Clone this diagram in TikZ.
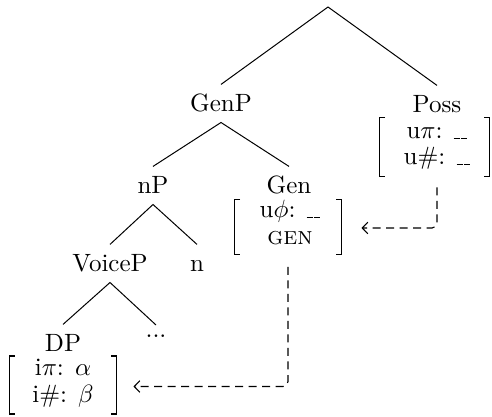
\documentclass[tikz,border=0pt]{standalone}
\usetikzlibrary{arrows.meta}
\newcommand{\blankslot}{\rule[-0.2pt]{2.4pt}{0.45pt}\hspace{0.7pt}\rule[-0.2pt]{2.4pt}{0.45pt}}
\begin{document}
\begin{tikzpicture}[x=0.4pt,y=-0.4pt,
  lbl/.style={inner sep=0pt,text height=6.83pt,text depth=0pt,anchor=base},
  feat/.style={inner sep=0pt,anchor=base},
  bundle/.style={inner sep=0pt,draw=none},
  branch/.style={line width=0.4pt},
  brk/.style={line width=0.5pt},
  agree/.style={line width=0.45pt,dash pattern=on 3.2pt off 2.2pt,rounded corners=2pt,
    -{Straight Barb[length=2.2pt,width=4.6pt]}}]
\useasboundingbox (0,0) rectangle (492,417);
% tree labels
\coordinate (root) at (328,7);
\node[lbl] (genp) at (221,112) {GenP};
\node[lbl] (poss) at (437,113) {Poss};
\node[lbl] (np) at (153,194) {nP};
\node[lbl] (gen) at (289,194) {Gen};
\node[lbl] (voicep) at (110,272) {VoiceP};
\node[lbl] (n) at (197,272) {n};
\node[lbl] (dp) at (63,352) {DP};
\node[lbl,text height=1pt] (dots) at (156,338) {...};
% feature bundles
\node[bundle,minimum width=43.6pt,minimum height=23.2pt] (possf) at (434.5,147) {};
\node[feat] (upi) at (437,139) {u$\pi$: \blankslot};
\node[feat] (unum) at (437,165) {u\#: \blankslot};
\node[bundle,minimum width=42.4pt,minimum height=21.6pt] (genf) at (288,227) {};
\node[feat] (uphi) at (290,218) {u$\phi$: \blankslot};
\node[feat] (gencase) at (290,245) {\textsc{gen}};
\node[bundle,minimum width=42.4pt,minimum height=22.8pt] (dpf) at (63,385) {};
\node[feat] (ipi) at (63,376) {i$\pi$: $\alpha$};
\node[feat] (inum) at (63,403) {i\#: $\beta$};
% brackets
\foreach \b in {possf,genf,dpf}{
  \draw[brk] ([xshift=2.2pt]\b.north west) -- (\b.north west) -- (\b.south west) -- ([xshift=2.2pt]\b.south west);
  \draw[brk] ([xshift=-2.2pt]\b.north east) -- (\b.north east) -- (\b.south east) -- ([xshift=-2.2pt]\b.south east);
}
% branches
\draw[branch] (root) -- ([yshift=4pt]genp.north);
\draw[branch] (root) -- ([yshift=4pt]poss.north);
\draw[branch] ([yshift=4pt]np.north) -- ([yshift=-4pt]genp.south) -- ([yshift=4pt]gen.north);
\draw[branch] ([yshift=4pt]voicep.north) -- ([yshift=-4pt]np.south) -- ([yshift=4pt]n.north);
\draw[branch] ([yshift=4pt]dp.north) -- ([yshift=-4pt]voicep.south) -- ([yshift=4pt]dots.north);
% agreement arrows
\draw[agree] ([xshift=1pt,yshift=-4.4pt]possf.south) |- ([xshift=8pt,yshift=-0.4pt]genf.east);
\draw[agree] ([yshift=-5pt]genf.south) |- ([xshift=6.8pt,yshift=-0.6pt]dpf.east);
\end{tikzpicture}
\end{document}
